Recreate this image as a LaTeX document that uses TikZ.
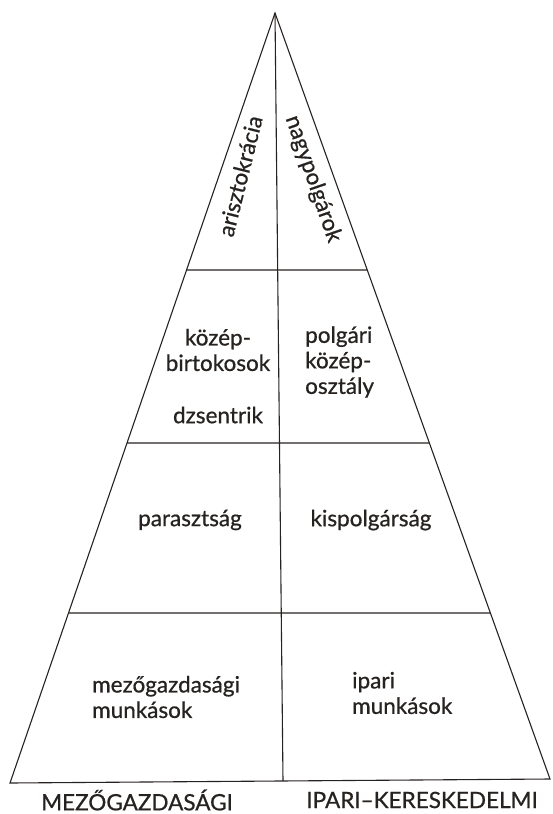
\documentclass[tikz,border=0pt]{standalone}
\usepackage{fontspec}
\setmainfont{Lato}[FakeBold=0.7]
\usetikzlibrary{calc}
\definecolor{ink}{HTML}{262220}
\tikzset{
  edge/.style={draw=ink, line width=1.1pt},
  lbl/.style={text=ink, font=\fontsize{22.5}{25.5}\selectfont, inner sep=0pt},
}
\begin{document}
\begin{tikzpicture}[x=1pt,y=-1pt]
\useasboundingbox (0,0) rectangle (552,814);
\coordinate (A) at (275,13);
\coordinate (BL) at (10,783);
\coordinate (BR) at (550,779);
\coordinate (C) at (283,781);
% level lines
\coordinate (L1) at ($(A)!0.3338!(BL)$);
\coordinate (R1) at ($(A)!0.3355!(BR)$);
\coordinate (L2) at ($(A)!0.5584!(BL)$);
\coordinate (R2) at ($(A)!0.5614!(BR)$);
\coordinate (L3) at ($(A)!0.7792!(BL)$);
\coordinate (R3) at ($(A)!0.7833!(BR)$);
\draw[edge] (A) -- (BL) -- (BR) -- cycle;
\draw[edge] (A) -- (C);
\draw[edge] (L1) -- (R1);
\draw[edge] (L2) -- (R2);
\draw[edge] (L3) -- (R3);
% texts
\node[lbl, rotate=76] (ar) at (240,176) {arisztokrácia};
\node[lbl, rotate=-71] (nagy) at (313,179) {nagypolgárok};
\node[lbl, align=center] (kb) at (218,350) {közép-\\birtokosok};
\node[lbl] (dz) at (218,415) {dzsentrik};
\node[lbl, align=left, anchor=west] (pk) at (305,362) {polgári\\közép-\\osztály};
\node[lbl] (par) at (190,520) {parasztság};
\node[lbl] (kis) at (371,520) {kispolgárság};
\node[lbl, align=left, anchor=west] (mm) at (92,697) {mezőgazdasági\\munkások};
\node[lbl, align=left, anchor=west] (im) at (352,693) {ipari\\munkások};
\node[lbl] (mg) at (137,800) {MEZŐGAZDASÁGI};
\node[lbl] (ik) at (422,800) {IPARI–KERESKEDELMI};
\end{tikzpicture}
\end{document}
